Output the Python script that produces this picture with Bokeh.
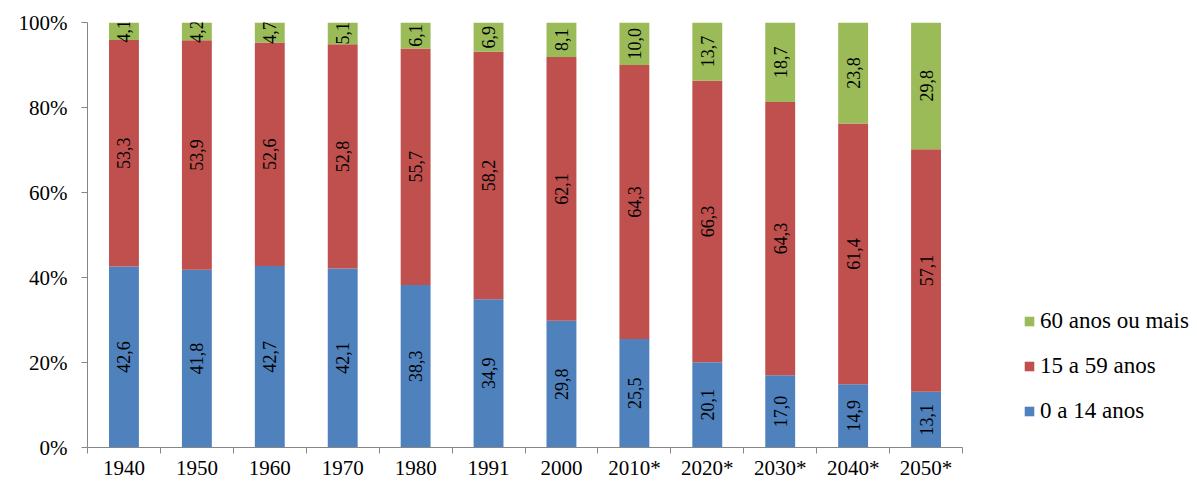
import numpy as np
from bokeh.plotting import figure
from bokeh.models import (ColumnDataSource, FixedTicker, PrintfTickFormatter, Range1d,
                          Legend, LegendItem)
from bokeh.core.properties import value
from bokeh.embed import file_html
from bokeh.resources import INLINE

categories = ["1940", "1950", "1960", "1970", "1980", "1991", "2000",
              "2010*", "2020*", "2030*", "2040*", "2050*"]
young = [42.6, 41.8, 42.7, 42.1, 38.3, 34.9, 29.8, 25.5, 20.1, 17.0, 14.9, 13.1]
adult = [53.3, 53.9, 52.6, 52.8, 55.7, 58.2, 62.1, 64.3, 66.3, 64.3, 61.4, 57.1]
old = [4.1, 4.2, 4.7, 5.1, 6.1, 6.9, 8.1, 10.0, 13.7, 18.7, 23.8, 29.8]
series_names = ["0 a 14 anos", "15 a 59 anos", "60 anos ou mais"]
colors = ["#4F81BD", "#C0504D", "#9BBB59"]
y_ticks = [0, 20, 40, 60, 80, 100]

FONT = "Liberation Serif"

n = len(categories)
xs = np.arange(n) + 0.5
tot = np.array(young) + np.array(adult) + np.array(old)
shares = [np.array(s) / tot * 100 for s in (young, adult, old)]
bottoms = [np.zeros(n), shares[0], shares[0] + shares[1]]
tops = [bottoms[i] + shares[i] for i in range(3)]
raw = [young, adult, old]

# frame spans to the right edge; axis line is limited to the 12 categories
unit = 875 / n
x_end = (1197 - 87) / unit

p = figure(width=1197, height=482, output_backend="svg", toolbar_location=None,
           x_range=Range1d(0, x_end), y_range=Range1d(0, 100),
           min_border_left=87, min_border_right=0, min_border_top=22,
           min_border_bottom=34)
p.outline_line_color = None
p.xgrid.visible = False
p.ygrid.visible = False

renderers = []
for i in range(3):
    src = ColumnDataSource(dict(x=xs, bottom=bottoms[i], top=tops[i],
                                mid=(bottoms[i] + tops[i]) / 2,
                                lab=[f"{v:.1f}".replace(".", ",") for v in raw[i]]))
    r = p.vbar(x="x", bottom="bottom", top="top", width=0.41, source=src,
               fill_color=colors[i], line_color=None)
    renderers.append(r)
    p.text(x="x", y="mid", text="lab", source=src, angle=np.pi / 2,
           text_align="center", text_baseline="middle",
           text_font=value(FONT), text_font_size="18px", text_color="black")

axis_color = "#868686"
for ax in (p.xaxis[0], p.yaxis[0]):
    ax.axis_line_color = axis_color
    ax.major_tick_line_color = axis_color
    ax.minor_tick_line_color = axis_color
    ax.major_label_text_font = FONT
    ax.major_label_text_font_size = "21px"
    ax.major_label_text_color = "black"

p.yaxis.ticker = FixedTicker(ticks=y_ticks, minor_ticks=[])
p.yaxis.formatter = PrintfTickFormatter(format="%d%%")
p.yaxis.major_tick_out = 6
p.yaxis.major_tick_in = 0
p.yaxis.minor_tick_out = 0
p.yaxis.major_label_standoff = 14

p.xaxis.bounds = (0, n)
p.xaxis.ticker = FixedTicker(ticks=list(xs), minor_ticks=list(range(n + 1)))
p.xaxis.major_label_overrides = {float(x): c for x, c in zip(xs, categories)}
p.xaxis.major_tick_out = 0
p.xaxis.major_tick_in = 0
p.xaxis.minor_tick_out = 6
p.xaxis.minor_tick_in = 0
p.xaxis.major_label_standoff = 2

legend = Legend(items=[LegendItem(label=series_names[i], renderers=[renderers[i]])
                       for i in (2, 1, 0)],
                location=(936, 23), orientation="vertical",
                glyph_width=12, glyph_height=12, label_standoff=5,
                spacing=19, padding=0, margin=0,
                border_line_color=None, background_fill_alpha=0)
legend.label_text_font = FONT
legend.label_text_font_size = "23px"
legend.label_text_color = "black"
p.add_layout(legend, "center")

open("out.html", "w").write(file_html(p, INLINE))
